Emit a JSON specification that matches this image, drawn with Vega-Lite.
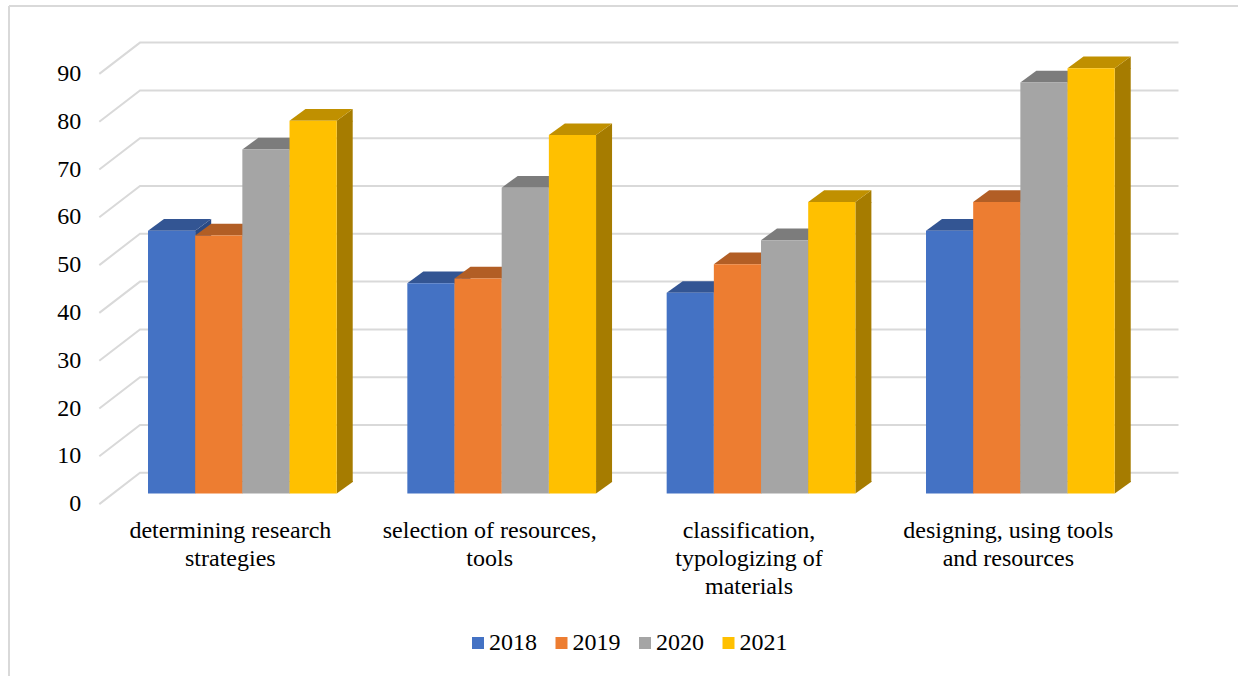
{
  "$schema": "https://vega.github.io/schema/vega-lite/v6.json",
  "width": 1229,
  "height": 670,
  "padding": {"left": 9, "top": 6, "right": 0, "bottom": 0},
  "autosize": "none",
  "background": "white",
  "config": {
    "view": {"stroke": null},
    "font": "Liberation Serif"
  },
  "layer": [
    {
      "data": {"values": [{}]},
      "mark": {"type": "rule", "stroke": "#d9d9d9", "strokeWidth": 2},
      "encoding": {"x": {"value": 0}}
    },
    {
      "data": {"values": [{}]},
      "mark": {"type": "rule", "stroke": "#d9d9d9", "strokeWidth": 2},
      "encoding": {"y": {"value": 0}}
    },
    {
      "data": {"values": [{"tick": 0}, {"tick": 10}, {"tick": 20}, {"tick": 30}, {"tick": 40}, {"tick": 50}, {"tick": 60}, {"tick": 70}, {"tick": 80}, {"tick": 90}]},
      "mark": {
        "type": "point",
        "shape": "M-40.7,31.3L0,0L1038.5,0",
        "size": 4,
        "filled": false,
        "opacity": 1,
        "stroke": "#d9d9d9",
        "strokeWidth": 2,
        "yOffset": -20.8
      },
      "encoding": {
        "x": {"value": 131},
        "y": {
          "field": "tick",
          "type": "quantitative",
          "scale": {"domain": [0, 90], "range": [487.6, 57.4], "nice": false},
          "axis": {
            "title": null,
            "values": [0, 10, 20, 30, 40, 50, 60, 70, 80, 90],
            "domain": false,
            "ticks": false,
            "grid": false,
            "offset": -71.7,
            "labelPadding": 0,
            "labelOffset": 10,
            "labelFont": "Liberation Serif",
            "labelFontSize": 24,
            "labelColor": "#000000"
          }
        }
      }
    },
    {
      "data": {
        "values": [
          {"task": "determining research strategies", "year": "2018", "value": 55},
          {"task": "determining research strategies", "year": "2019", "value": 54},
          {"task": "determining research strategies", "year": "2020", "value": 72},
          {"task": "determining research strategies", "year": "2021", "value": 78},
          {"task": "selection of resources, tools", "year": "2018", "value": 44},
          {"task": "selection of resources, tools", "year": "2019", "value": 45},
          {"task": "selection of resources, tools", "year": "2020", "value": 64},
          {"task": "selection of resources, tools", "year": "2021", "value": 75},
          {"task": "classification, typologizing of materials", "year": "2018", "value": 42},
          {"task": "classification, typologizing of materials", "year": "2019", "value": 48},
          {"task": "classification, typologizing of materials", "year": "2020", "value": 53},
          {"task": "classification, typologizing of materials", "year": "2021", "value": 61},
          {"task": "designing, using tools and resources", "year": "2018", "value": 55},
          {"task": "designing, using tools and resources", "year": "2019", "value": 61},
          {"task": "designing, using tools and resources", "year": "2020", "value": 86},
          {"task": "designing, using tools and resources", "year": "2021", "value": 89}
        ]
      },
      "encoding": {
        "x": {
          "field": "task",
          "type": "nominal",
          "sort": null,
          "scale": {"range": [139, 1105.7], "paddingInner": 0.2724, "paddingOuter": 0},
          "axis": {
            "title": null,
            "domain": false,
            "ticks": false,
            "labelAngle": 0,
            "offset": -158,
            "labelOffset": -12,
            "labelPadding": 0,
            "labelFont": "Liberation Serif",
            "labelFontSize": 24,
            "labelLineHeight": 28,
            "labelLimit": 400,
            "labelColor": "#000000",
            "labelBaseline": "top",
            "labelExpr": "{'determining research strategies': ['determining research', 'strategies'], 'selection of resources, tools': ['selection of resources,', 'tools'], 'classification, typologizing of materials': ['classification,', 'typologizing of', 'materials'], 'designing, using tools and resources': ['designing, using tools', 'and resources']}[datum.label]"
          }
        },
        "xOffset": {
          "field": "year",
          "type": "nominal",
          "scale": {"type": "band", "range": [0, 188.7], "paddingInner": 0, "paddingOuter": 0}
        },
        "y": {
          "field": "value",
          "type": "quantitative",
          "stack": null
        }
      },
      "resolve": {"scale": {"color": "independent", "xOffset": "independent"}},
      "layer": [
        {
          "mark": {"type": "bar", "width": 16, "y2Offset": -11.7},
          "encoding": {
            "xOffset": {
              "field": "year",
              "type": "nominal",
              "scale": {"type": "band", "range": [31.6, 220.3], "paddingInner": 0, "paddingOuter": 0}
            },
            "y2": {"datum": 0},
            "color": {
              "field": "year",
              "type": "nominal",
              "legend": null,
              "scale": {"domain": ["2018", "2019", "2020", "2021"], "range": ["#2a4a85", "#a85a20", "#6f6f6f", "#a67c00"]}
            }
          }
        },
        {
          "mark": {"type": "point", "shape": "M23.6,0L39.6,-11.7L39.6,0.8L23.6,0.8Z", "size": 4, "filled": true, "opacity": 1, "strokeWidth": 0},
          "encoding": {
            "color": {
              "field": "year",
              "type": "nominal",
              "legend": null,
              "scale": {"domain": ["2018", "2019", "2020", "2021"], "range": ["#2a4a85", "#a85a20", "#6f6f6f", "#a67c00"]}
            }
          }
        },
        {
          "mark": {"type": "point", "shape": "M23.6,0L39.6,-11.7L39.6,-12.5L23.6,-12.5Z", "size": 4, "filled": true, "opacity": 1, "strokeWidth": 0},
          "encoding": {
            "y": {"datum": 0},
            "color": {
              "field": "year",
              "type": "nominal",
              "legend": null,
              "scale": {"domain": ["2018", "2019", "2020", "2021"], "range": ["#2a4a85", "#a85a20", "#6f6f6f", "#a67c00"]}
            }
          }
        },
        {
          "mark": {"type": "point", "shape": "M-23.6,0L23.6,0L39.6,-11.7L-7.6,-11.7Z", "size": 4, "filled": true, "opacity": 1, "strokeWidth": 0},
          "encoding": {
            "color": {
              "field": "year",
              "type": "nominal",
              "legend": null,
              "scale": {"domain": ["2018", "2019", "2020", "2021"], "range": ["#335593", "#b25e25", "#7c7c7c", "#c09000"]}
            }
          }
        },
        {
          "mark": {"type": "bar"},
          "encoding": {
            "color": {
              "field": "year",
              "type": "nominal",
              "scale": {"domain": ["2018", "2019", "2020", "2021"], "range": ["#4472c4", "#ed7d31", "#a5a5a5", "#ffc000"]},
              "legend": {
                "title": null,
                "orient": "none",
                "direction": "horizontal",
                "columns": 4,
                "legendX": 457,
                "legendY": 625,
                "symbolType": "square",
                "symbolSize": 144,
                "symbolStrokeWidth": 0,
                "columnPadding": 12.5,
                "labelOffset": -1,
                "labelFont": "Liberation Serif",
                "labelFontSize": 24,
                "labelColor": "#000000"
              }
            }
          }
        }
      ]
    }
  ]
}
